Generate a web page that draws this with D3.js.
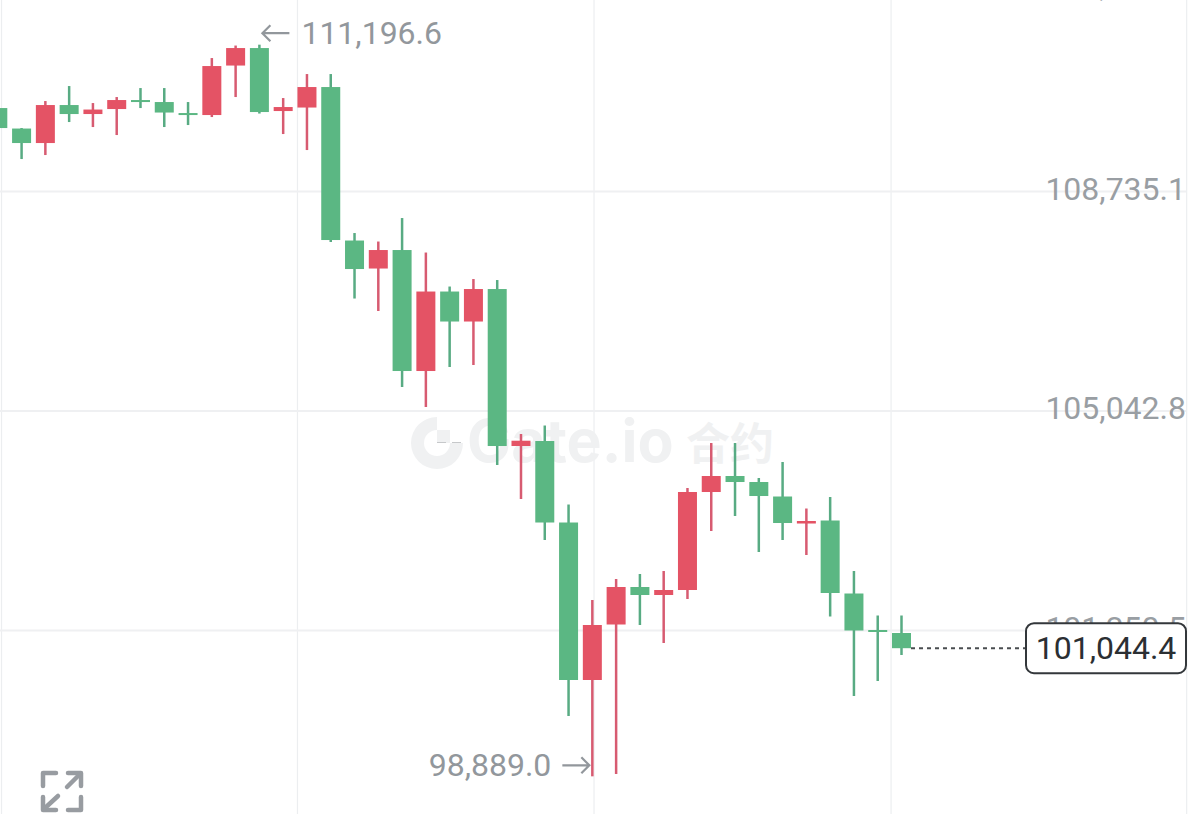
<!DOCTYPE html>
<html>
<head>
<meta charset="utf-8">
<script src="https://cdn.jsdelivr.net/npm/d3@7"></script>
<style>
  html, body { margin: 0; padding: 0; background: #fff; overflow: hidden; }
  text { font-family: Roboto, sans-serif; }
</style>
</head>
<body>
<div id="vis"></div>
<script>

// ohlc, one entry per candle
var opens = [110130.5, 109785.7, 109541.8, 110181, 110029.6, 110113.7, 110265.1, 110231.5, 110046.4, 110012.8,
  110845.4, 111139.7, 110080.1, 110139, 110483.8, 107901.9, 107430.9, 107742.1, 105706.9, 107044.1,
  106539.5, 107086.1, 104445.4, 104529.5, 103158.7, 100509.5, 101443, 102073.8, 101939.2, 102023.3,
  103671.7, 103940.8, 103839.9, 103596, 103141.8, 103192.3, 101964.4, 101350.5, 101300];
var highs = [110130.5, 109794.1, 110248.3, 110500.6, 110214.6, 110315.6, 110466.9, 110466.9, 110231.5, 110971.5,
  111181.8, 111196.6, 110298.7, 110702.4, 110702.4, 108028, 107885.1, 108280.3, 107700.1, 107128.2,
  107254.3, 107237.5, 104647.2, 104790.2, 103461.4, 101855.1, 102208.3, 102292.4, 102342.9, 103738.9,
  104495.8, 104495.8, 103907.1, 104176.3, 103394.1, 103587.6, 102342.9, 101594.4, 101594.4];
var lows = [109794.1, 109272.7, 109340, 109895.1, 109811, 109676.4, 110130.5, 109811, 109844.6, 109979.2,
  110315.6, 110038, 109693.2, 109424.1, 107876.7, 106926.3, 106716.1, 105437.8, 105101.4, 105774.2,
  105807.8, 104125.8, 103553.9, 102864.3, 99904, 98889, 98928.4, 101434.6, 101131.8, 101871.9,
  103015.7, 103268, 102662.5, 102864.3, 102612, 101577.6, 100240.4, 100492.7, 100930];
var closes = [109794.1, 109541.8, 110181, 110029.6, 110105.3, 110265.1, 110231.5, 110054.9, 110012.8, 110837,
  111139.7, 110063.3, 110147.4, 110483.8, 107910.3, 107422.5, 107742.1, 105706.9, 107044.1, 106539.5,
  107086.1, 104445.4, 104534.5, 103158.7, 100509.5, 101434.6, 102073.8, 101939.2, 102023.3, 103671.7,
  103940.8, 103839.9, 103604.4, 103150.2, 103183.9, 101972.8, 101342.1, 101325.3, 101044.4];

var priceTicks = [112427.4, 108735.1, 105042.8, 101350.5];
var timeGrid = [0.135, 12.58, 25.05, 37.54, 49.97];

var highLabel = 111196.6;
var lowLabel = 98889.0;
var lastPrice = 101044.4;

var width = 1199;
var height = 814;
var right = 1186;

var green = '#5bb783';
var greenWick = '#58ab83';
var red = '#e45365';
var redWick = '#d75b71';

var fmt = d3.format(',.1f');

var svg = d3.select('#vis')
  .append('svg')
  .attr('width', width)
  .attr('height', height);

var x = d3.scaleLinear().domain([0, 38]).range([-2.2, 901.5]);
var y = d3.scaleLinear().domain([108735.1, 101350.5]).range([191, 630]);

// grid
var xAxis = d3.axisBottom(x).tickValues(timeGrid).tickSize(height).tickFormat('');
svg.append('g').call(xAxis).call(function(g) {
  g.select('.domain').remove();
  g.selectAll('line').attr('stroke', '#eceef0').attr('stroke-width', 1.2);
});

var yGrid = d3.axisRight(y).tickValues(priceTicks).tickSize(right).tickFormat('');
svg.append('g').call(yGrid).call(function(g) {
  g.select('.domain').remove();
  g.selectAll('line').attr('stroke', '#eff0f2').attr('stroke-width', 2);
});

// watermark sits under the candles
var mark = svg.append('g').attr('fill', '#f0f1f2');
mark.append('path')
  .attr('d', d3.arc().innerRadius(13).outerRadius(26).startAngle(Math.PI / 2).endAngle(Math.PI * 2)())
  .attr('transform', 'translate(437,443)');
mark.append('rect').attr('x', 437).attr('y', 430).attr('width', 13).attr('height', 13);
mark.append('line')
  .attr('x1', 437).attr('x2', 466).attr('y1', 442.5).attr('y2', 442.5)
  .attr('stroke', '#c6c8ca').attr('stroke-width', 1).attr('stroke-dasharray', '9,6');
mark.append('text')
  .attr('x', 467).attr('y', 462)
  .attr('font-size', 59).attr('font-weight', 700)
  .style('font-family', 'Inter, sans-serif')
  .text('Gate.io');
mark.append('text')
  .attr('x', 686).attr('y', 460)
  .attr('font-size', 44).attr('font-weight', 700)
  .style('font-family', '"Noto Sans CJK SC", sans-serif')
  .text('合约');

// price labels, the top one is held at the edge of the chart
var yAxis = d3.axisRight(y).tickValues(priceTicks).tickSize(0).tickFormat(fmt);
svg.append('g').call(yAxis).call(function(g) {
  g.select('.domain').remove();
  g.selectAll('text')
    .attr('x', right)
    .attr('dy', function(d) { return y(d) < 0 ? '0.75em' : '0.26em'; })
    .attr('text-anchor', 'end')
    .attr('font-size', 32)
    .attr('fill', '#999ea3');
});

// candles
var candles = svg.selectAll('.candle')
  .data(d3.range(opens.length))
  .enter().append('g')
  .classed('candle', true);

function isUp(i) { return closes[i] >= opens[i]; }

candles.append('line')
  .attr('x1', function(i) { return x(i); })
  .attr('x2', function(i) { return x(i); })
  .attr('y1', function(i) { return y(highs[i]); })
  .attr('y2', function(i) { return y(lows[i]); })
  .attr('stroke', function(i) { return isUp(i) ? redWick : greenWick; })
  .attr('stroke-width', 2.5);

candles.append('rect')
  .attr('x', function(i) { return x(i) - 9.5; })
  .attr('width', 19)
  .attr('y', function(i) { return y(Math.max(opens[i], closes[i])); })
  .attr('height', function(i) { return Math.max(2, Math.abs(y(opens[i]) - y(closes[i]))); })
  .attr('fill', function(i) { return isUp(i) ? red : green; });

// high / low markers
var grey = '#92979c';

var hx = x(11) + 3;
var hy = y(highLabel) - 11.5;
svg.append('path')
  .attr('d', 'M' + (hx + 27) + ',' + hy + 'H' + hx + 'm8,-8l-8,8l8,8')
  .attr('fill', 'none').attr('stroke', grey).attr('stroke-width', 2.2);
svg.append('text')
  .attr('x', hx + 39).attr('y', hy + 11)
  .attr('font-size', 32).attr('fill', grey)
  .text(fmt(highLabel));

var lx = x(25) - 3;
var ly = y(lowLabel) - 11;
svg.append('path')
  .attr('d', 'M' + (lx - 27) + ',' + ly + 'H' + lx + 'm-8,-8l8,8l-8,8')
  .attr('fill', 'none').attr('stroke', grey).attr('stroke-width', 2.2);
svg.append('text')
  .attr('x', lx - 38).attr('y', ly + 11)
  .attr('text-anchor', 'end')
  .attr('font-size', 32).attr('fill', grey)
  .text(fmt(lowLabel));

// last price line and box
var py = y(lastPrice);
svg.append('line')
  .attr('x1', x(38) + 9.5).attr('x2', 1026)
  .attr('y1', py).attr('y2', py)
  .attr('stroke', '#4a4d50').attr('stroke-width', 2)
  .attr('stroke-dasharray', '4,4');
svg.append('rect')
  .attr('x', 1026).attr('y', py - 25)
  .attr('width', 160).attr('height', 50)
  .attr('rx', 8)
  .attr('fill', '#fff').attr('stroke', '#33373b').attr('stroke-width', 2);
svg.append('text')
  .attr('x', 1106).attr('y', py + 11)
  .attr('text-anchor', 'middle')
  .attr('font-size', 32).attr('fill', '#2b2f33')
  .text(fmt(lastPrice));

// fullscreen icon
var icon = svg.append('g')
  .attr('transform', 'translate(43,773)')
  .attr('fill', 'none').attr('stroke', '#989ca1')
  .attr('stroke-width', 4.5).attr('stroke-linecap', 'round').attr('stroke-linejoin', 'round');
icon.append('path').attr('d', 'M0,13V0H13');
icon.append('path').attr('d', 'M25,0H38V13');
icon.append('path').attr('d', 'M38,24V37H25');
icon.append('path').attr('d', 'M13,37H0V24');
icon.append('path').attr('d', 'M36,2L24,14');
icon.append('path').attr('d', 'M2,35L15,23');

</script>
</body>
</html>
